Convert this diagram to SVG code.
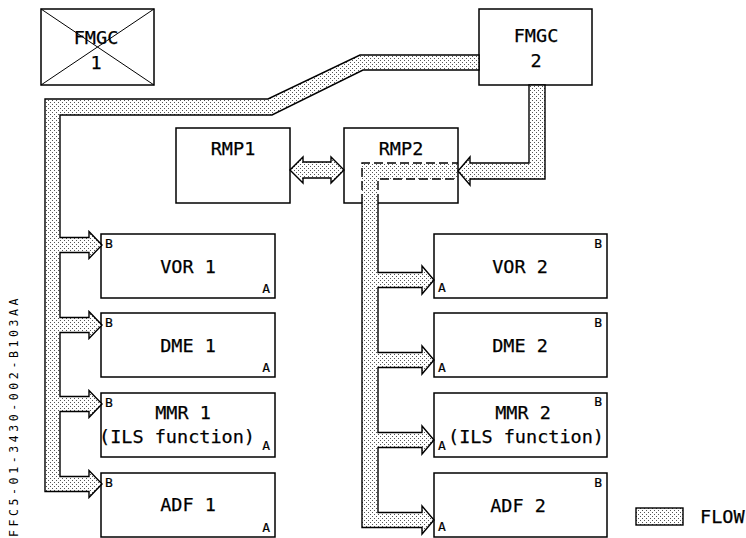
<svg xmlns="http://www.w3.org/2000/svg" width="746" height="538" viewBox="0 0 746 538">
<defs>
<pattern id="dots" x="0" y="0" width="4" height="4" patternUnits="userSpaceOnUse">
<rect width="4" height="4" fill="#fff"/>
<rect x="0" y="0" width="1" height="1" fill="#555"/>
<rect x="2" y="2" width="1" height="1" fill="#555"/>
</pattern>
</defs>
<style>
.box{fill:#fff;stroke:#000;stroke-width:1.5}
.flow{fill:url(#dots);stroke:#000;stroke-width:1.4;stroke-linejoin:miter}
.fill{fill:url(#dots);stroke:none}
.edge{fill:none;stroke:#000;stroke-width:1.4}
.dash{fill:none;stroke:#000;stroke-width:1.4;stroke-dasharray:9 4}
.t{font-family:"DejaVu Sans Mono","Liberation Mono",monospace;font-size:18.5px;fill:#000;stroke:#000;stroke-width:0.25}
.m{text-anchor:middle}
.s{font-family:"DejaVu Sans Mono","Liberation Mono",monospace;font-size:13px;fill:#000;stroke:#000;stroke-width:0.2}
.e{text-anchor:end}
.x{stroke:#000;stroke-width:1}
</style>
<rect width="746" height="538" fill="#fff"/>

<g id="fmgc1">
<rect class="box" x="41" y="9" width="113" height="76"/>
<line class="x" x1="41" y1="9" x2="154" y2="85"/>
<line class="x" x1="154" y1="9" x2="41" y2="85"/>
<text class="t m" x="96" y="44">FMGC</text>
<text class="t m" x="96" y="69">1</text>
</g>
<g id="fmgc2">
<rect class="box" x="479" y="9" width="113" height="76"/>
<text class="t m" x="536" y="42">FMGC</text>
<text class="t m" x="536" y="67">2</text>
</g>
<g id="rmp1">
<rect class="box" x="176" y="128" width="114" height="75"/>
<text class="t m" x="233" y="155">RMP1</text>
</g>
<g id="rmp2">
<rect class="box" x="344" y="128" width="114" height="75"/>
<text class="t m" x="401" y="155">RMP2</text>
</g>

<g id="vor1">
<rect class="box" x="101" y="234" width="174" height="64"/>
<text class="t m" x="188" y="273">VOR 1</text>
<text class="s" x="105" y="248">B</text>
<text class="s e" x="270" y="293">A</text>
</g>
<g id="dme1">
<rect class="box" x="101" y="313" width="174" height="64"/>
<text class="t m" x="188" y="352">DME 1</text>
<text class="s" x="105" y="327">B</text>
<text class="s e" x="270" y="372">A</text>
</g>
<g id="mmr1">
<rect class="box" x="101" y="393" width="174" height="64"/>
<text class="t m" x="183" y="419">MMR 1</text>
<text class="t m" x="177" y="443">(ILS function)</text>
<text class="s" x="105" y="407">B</text>
<text class="s e" x="270" y="450">A</text>
</g>
<g id="adf1">
<rect class="box" x="101" y="473" width="174" height="64"/>
<text class="t m" x="188" y="511">ADF 1</text>
<text class="s" x="105" y="487">B</text>
<text class="s e" x="270" y="532">A</text>
</g>

<g id="vor2">
<rect class="box" x="434" y="234" width="173" height="64"/>
<text class="t m" x="520" y="273">VOR 2</text>
<text class="s e" x="602" y="248">B</text>
<text class="s" x="438" y="292">A</text>
</g>
<g id="dme2">
<rect class="box" x="434" y="313" width="173" height="64"/>
<text class="t m" x="520" y="352">DME 2</text>
<text class="s e" x="602" y="327">B</text>
<text class="s" x="438" y="372">A</text>
</g>
<g id="mmr2">
<rect class="box" x="434" y="393" width="173" height="64"/>
<text class="t m" x="523" y="419">MMR 2</text>
<text class="t m" x="526" y="443">(ILS function)</text>
<text class="s e" x="602" y="406">B</text>
<text class="s" x="438" y="450">A</text>
</g>
<g id="adf2">
<rect class="box" x="434" y="473" width="173" height="64"/>
<text class="t m" x="518" y="512">ADF 2</text>
<text class="s e" x="602" y="487">B</text>
<text class="s" x="438" y="531">A</text>
</g>

<g id="connectors">
<path class="flow" d="M479,55 L360,55 L268,99 L45,99 L45,491.5 L89,491.5 L89,497.5 L102,484 L89,470.5 L89,476.5 L60,476.5 L60,411.5 L89,411.5 L89,417.5 L102,404 L89,390.5 L89,396.5 L60,396.5 L60,332.5 L89,332.5 L89,338.5 L102,325 L89,311.5 L89,317.5 L60,317.5 L60,252.5 L89,252.5 L89,258.5 L102,245 L89,231.5 L89,237.5 L60,237.5 L60,115 L272,115 L363,70 L479,70 Z"/>
<path class="flow" d="M529,85 L529,163 L470,163 L470,157 L458,171 L470,185 L470,179 L545,179 L545,85 Z"/>
<path class="flow" d="M290,170 L303,157 L303,162 L331,162 L331,157 L344,170 L331,183 L331,178 L303,178 L303,183 Z"/>
<path class="fill" d="M457,163 L362,163 L362,527.5 L422,527.5 L422,534 L434,520 L422,506 L422,512.5 L378,512.5 L378,447.5 L422,447.5 L422,454 L434,440 L422,426 L422,432.5 L378,432.5 L378,367.5 L422,367.5 L422,374 L434,360 L422,346 L422,352.5 L378,352.5 L378,287.5 L422,287.5 L422,294 L434,280 L422,266 L422,272.5 L378,272.5 L378,179 L457,179 Z"/>
<path class="edge" d="M362,203 L362,527.5 L422,527.5 L422,534 L434,520 L422,506 L422,512.5 L378,512.5 L378,447.5 L422,447.5 L422,454 L434,440 L422,426 L422,432.5 L378,432.5 L378,367.5 L422,367.5 L422,374 L434,360 L422,346 L422,352.5 L378,352.5 L378,287.5 L422,287.5 L422,294 L434,280 L422,266 L422,272.5 L378,272.5 L378,203"/>
<path class="dash" d="M362,203 L362,163 L458,163 M378,203 L378,179 L458,179"/>
</g>

<g id="legend">
<rect class="flow" x="636" y="508" width="47" height="17"/>
<text class="t" x="700" y="523">FLOW</text>
</g>
<text transform="translate(18,537) rotate(-90)" font-family="DejaVu Sans Mono, monospace" font-size="11.5" letter-spacing="3.6" fill="#000">FFC5-01-3430-002-B103AA</text>
</svg>
